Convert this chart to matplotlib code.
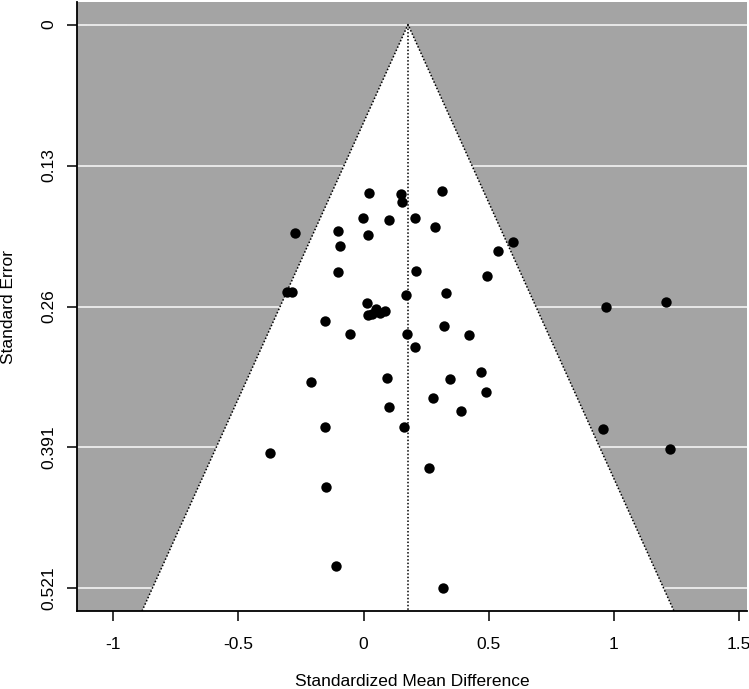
import matplotlib
matplotlib.use('Agg')
import matplotlib.pyplot as plt

# effect sizes (standardized mean difference) and their standard errors
smd = [0.0228, 0.1507, 0.1547, 0.3153, -0.0036, 0.1027, 0.2054, 0.2854,
       -0.2754, -0.1035, 0.0164, -0.0943, 0.5959, 0.5384, -0.1035, 0.2082,
       0.4920, -0.3050, -0.2874, 0.1683, 0.3293, 0.0148, 0.9676, 1.2098,
       0.0164, 0.0324, 0.0508, 0.0667, 0.0855, -0.1543, 0.3233, -0.0536,
       0.1723, 0.4221, 0.2066, 0.4680, -0.2114, 0.0923, 0.3465, 0.4904,
       0.2762, 0.1015, 0.3881, -0.1555, 0.1615, 0.9568, -0.3729, 1.2246,
       0.2602, -0.1503, -0.1103, 0.3185]
se = [0.1553, 0.1569, 0.1645, 0.1541, 0.1790, 0.1808, 0.1790, 0.1870,
      0.1928, 0.1913, 0.1944, 0.2051, 0.2009, 0.2092, 0.2285, 0.2279,
      0.2325, 0.2470, 0.2470, 0.2500, 0.2485, 0.2577, 0.2608, 0.2568,
      0.2685, 0.2679, 0.2632, 0.2669, 0.2648, 0.2738, 0.2784, 0.2860,
      0.2860, 0.2867, 0.2977, 0.3208, 0.3300, 0.3266, 0.3278, 0.3393,
      0.3451, 0.3540, 0.3574, 0.3725, 0.3725, 0.3740, 0.3958, 0.3924,
      0.4103, 0.4275, 0.5010, 0.5213]
estimate = 0.1775  # pooled estimate (centre of the funnel)

se_ticks = [0, 0.1303, 0.2607, 0.391, 0.5213]
se_labels = ['0', '0.13', '0.26', '0.391', '0.521']
smd_ticks = [-1, -0.5, 0, 0.5, 1, 1.5]
smd_labels = ['-1', '-0.5', '0', '0.5', '1', '1.5']

plt.rcParams['font.family'] = ['Liberation Sans', 'DejaVu Sans']

fig = plt.figure(figsize=(7.49, 6.89), dpi=100)
ax = fig.add_axes([77 / 749, 78 / 689, 670 / 749, 609 / 689])

# R style: limits stretched 4% beyond the data range
ytop = -0.04 * max(se_ticks)
ybot = max(se_ticks) * 1.04
ax.set_xlim(-1.145, 1.532)
ax.set_ylim(ybot, ytop)
ax.set_facecolor('#a4a4a4')

# white guide lines at each tick, hidden inside the funnel
for t in se_ticks:
    ax.axhline(t, color='#e8e8e8', lw=1.4, zorder=1)

# pseudo 95% confidence region
half = 1.96 * ybot
fx = [estimate - half, estimate, estimate + half]
fy = [ybot, 0, ybot]
ax.fill(fx, fy, color='white', lw=0, zorder=2)
ax.plot(fx, fy, color='black', lw=1.1, ls=(0, (1, 1.3)), zorder=3)
ax.plot([estimate, estimate], [0, ybot], color='black', lw=1.1, ls=(0, (1, 1.3)), zorder=3)

ax.scatter(smd, se, s=56, color='black', lw=0, zorder=4)

ax.spines['top'].set_visible(False)
ax.spines['right'].set_visible(False)
ax.spines['left'].set_linewidth(1.3)
ax.spines['bottom'].set_linewidth(1.3)

ax.set_xticks(smd_ticks, smd_labels, fontsize=12.5)
ax.set_yticks(se_ticks, se_labels, fontsize=12.5, rotation=90, va='center')
ax.tick_params(axis='both', direction='out', length=7.4, width=1.1)
ax.tick_params(axis='x', pad=11)
ax.tick_params(axis='y', pad=7.5)

ax.set_xlabel('Standardized Mean Difference', fontsize=12.5, va='baseline')
ax.set_ylabel('Standard Error', fontsize=12.5, va='baseline')
ax.xaxis.set_label_coords(0.5, (3 - 78) / 609)
ax.yaxis.set_label_coords((13 - 77) / 670, 0.5)

fig.savefig('out.png', dpi=100)
